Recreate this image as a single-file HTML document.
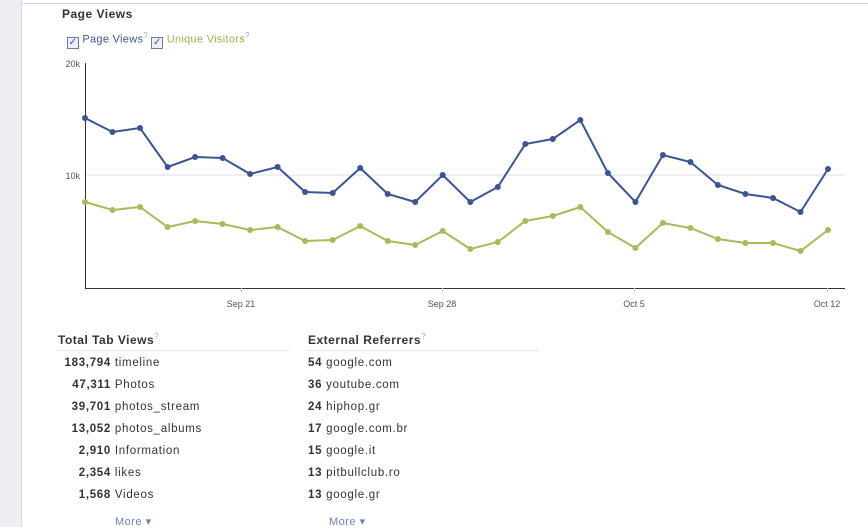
<!DOCTYPE html>
<html><head><style>
body{margin:0;width:868px;height:527px;background:#fff;font-family:"Liberation Sans",Arial,sans-serif;position:relative;overflow:hidden}
.side{position:absolute;left:0;top:0;width:21px;height:527px;background:#edeff4;border-right:1px solid #d3d8e4}
.top{position:absolute;left:22px;top:3px;width:846px;height:1px;background:#d3d8e4}
.t{position:absolute;font-size:11px;color:#333;letter-spacing:0.3px}
h3{position:absolute;margin:0;font-size:12px;font-weight:bold;color:#333;letter-spacing:0.5px}
.row{position:absolute;font-size:11.5px;color:#333;height:22px;line-height:22px;letter-spacing:0.7px;white-space:nowrap}
.n{display:inline-block;text-align:right;font-weight:bold}
.more{position:absolute;font-size:11px;color:#6d84b4;letter-spacing:0.5px}
.cb{display:inline-block;width:10px;height:10px;border:1px solid #6d7d99;background:#eef;vertical-align:-2px;font-size:10px;line-height:10px;text-align:center;color:#3b5998}
</style></head><body>
<div class="side"></div><div class="top"></div>
<h3 style="left:62px;top:7px">Page Views</h3>
<div class="t" style="left:67px;top:31px;color:#3b5998"><span class="cb">✓</span> Page Views<sup style="color:#aaa;font-size:8px">?</sup> <span class="cb">✓</span> <span style="color:#97b551">Unique Visitors</span><sup style="color:#aaa;font-size:8px">?</sup></div>
<svg style="position:absolute;left:0;top:0" width="868" height="320">
<g font-size="9" fill="#555" font-family="Liberation Sans,Arial,sans-serif">
<text x="80" y="67" text-anchor="end">20k</text>
<text x="80" y="179" text-anchor="end">10k</text>
<text x="241" y="307" text-anchor="middle">Sep 21</text>
<text x="442" y="307" text-anchor="middle">Sep 28</text>
<text x="634" y="307" text-anchor="middle">Oct 5</text>
<text x="827" y="307" text-anchor="middle">Oct 12</text>
</g>
<line x1="85" y1="175" x2="845" y2="175" stroke="#ddd"/>
<line x1="85.5" y1="63" x2="85.5" y2="288" stroke="#333"/>
<line x1="85" y1="288.5" x2="845" y2="288.5" stroke="#333"/>
<g stroke="#ccc"><line x1="241.5" y1="288" x2="241.5" y2="292"/><line x1="442.5" y1="288" x2="442.5" y2="292"/><line x1="634.5" y1="288" x2="634.5" y2="292"/><line x1="827.5" y1="288" x2="827.5" y2="292"/></g>
<g id="c"></g>
</svg>
<script>
var xs=[],i;for(i=0;i<28;i++)xs.push(85+i*(743/27));
var b=[118,132,128,167,157,158,174,167,192,193,168,194,202,175,202,187,144,139,120,173,202,155,162,185,194,198,212,169];
var g=[202,210,207,227,221,224,230,227,241,240,226,241,245,231,249,242,221,216,207,232,248,223,228,239,243,243,251,230];
var s='';
[[g,'#a4bd5c'],[b,'#3b5590']].forEach(function(d){
var p=d[0].map(function(y,i){return xs[i].toFixed(1)+','+y}).join(' ');
s+='<polyline points="'+p+'" fill="none" stroke="'+d[1]+'" stroke-width="2"/>';
d[0].forEach(function(y,i){s+='<circle cx="'+xs[i].toFixed(1)+'" cy="'+y+'" r="3" fill="'+d[1]+'"/>';});
});
document.getElementById('c').innerHTML=s;
</script>
<h3 style="left:58px;top:332px">Total Tab Views<sup style="color:#aaa;font-size:8px;font-weight:normal">?</sup></h3>
<div style="position:absolute;left:57px;top:350px;width:232px;height:1px;background:#e5e5e5"></div>
<h3 style="left:308px;top:332px">External Referrers<sup style="color:#aaa;font-size:8px;font-weight:normal">?</sup></h3>
<div style="position:absolute;left:306px;top:350px;width:232px;height:1px;background:#e5e5e5"></div>
<div id="rows"></div>
<div class="more" style="left:115px;top:515px">More ▾</div>
<div class="more" style="left:329px;top:515px">More ▾</div>
<script>
var L=[["183,794","timeline"],["47,311","Photos"],["39,701","photos_stream"],["13,052","photos_albums"],["2,910","Information"],["2,354","likes"],["1,568","Videos"]];
var R=[["54","google.com"],["36","youtube.com"],["24","hiphop.gr"],["17","google.com.br"],["15","google.it"],["13","pitbullclub.ro"],["13","google.gr"]];
var h='';
for(var i=0;i<7;i++){var y=352+i*22;
h+='<div class="row" style="left:50px;top:'+y+'px"><span class="n" style="width:61px">'+L[i][0]+'</span> '+L[i][1]+'</div>';
h+='<div class="row" style="left:308px;top:'+y+'px"><span class="n">'+R[i][0]+'</span> '+R[i][1]+'</div>';}
document.getElementById('rows').innerHTML=h;
</script>
</body></html>
